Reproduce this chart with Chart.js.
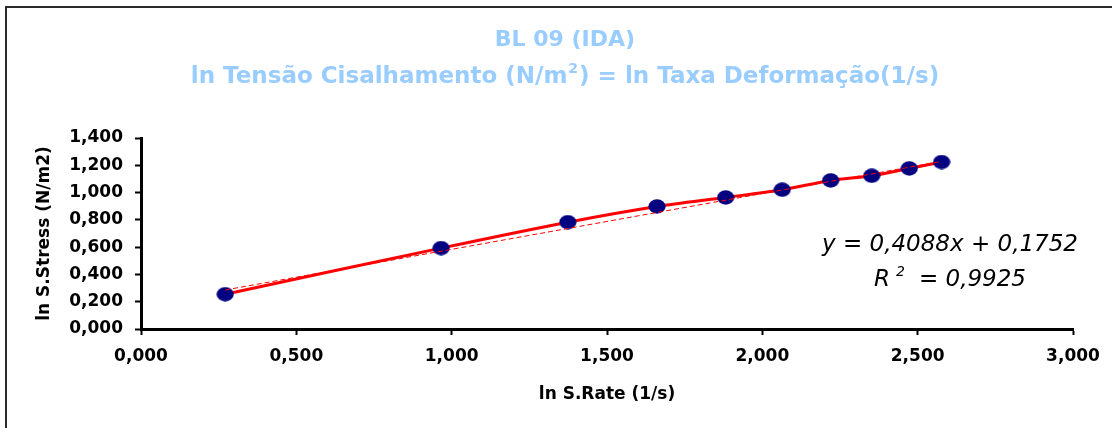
<!DOCTYPE html>
<html>
<head>
<meta charset="utf-8">
<script src="https://cdn.jsdelivr.net/npm/chart.js@4/dist/chart.umd.min.js"></script>
<style>
  html, body { margin: 0; padding: 0; background: #fff; }
  #wrap { width: 1112px; height: 428px; position: relative; }
</style>
</head>
<body>
<div id="wrap"><canvas id="c" width="1112" height="428"></canvas></div>
<script>
// ln of shear rate (1/s) and ln of shear stress (N/m2) for sample BL 09, ascending run
const shearRate   = [0.271, 0.966, 1.374, 1.661, 1.882, 2.064, 2.220, 2.352, 2.473, 2.577];
const shearStress = [0.255, 0.593, 0.783, 0.898, 0.964, 1.021, 1.089, 1.123, 1.177, 1.224];

// Linear trendline fitted in the spreadsheet
const trendSlope = 0.4088;
const trendIntercept = 0.1752;
const rSquared = 0.9925;

// Axis ticks
const xTicks = [0, 0.5, 1.0, 1.5, 2.0, 2.5, 3.0];
const yTicks = [0, 0.2, 0.4, 0.6, 0.8, 1.0, 1.2, 1.4];

const titleLine1 = 'BL 09 (IDA)';
const titleLine2a = 'ln Tensão Cisalhamento (N/m';
const titleLine2b = ') = ln Taxa Deformação(1/s)';
const xTitle = 'ln S.Rate (1/s)';
const yTitle = 'ln S.Stress (N/m2)';

const FONT = 'DejaVu Sans';
const comma = (v, d) => v.toFixed(d).replace('.', ',');

// Points of the measured series
const measured = shearRate.map((x, i) => ({ x: x, y: shearStress[i] }));
// Trendline spans the measured x range
const xFirst = shearRate[0], xLast = shearRate[shearRate.length - 1];
const trend = [
  { x: xFirst, y: trendSlope * xFirst + trendIntercept },
  { x: xLast,  y: trendSlope * xLast  + trendIntercept }
];

// Navy ellipse marker
const marker = document.createElement('canvas');
marker.width = 18; marker.height = 15;
(function () {
  const m = marker.getContext('2d');
  m.fillStyle = '#000080';
  m.beginPath();
  m.ellipse(9, 7.5, 8.6, 7.2, 0, 0, Math.PI * 2);
  m.fill();
})();

function drawParts(ctx, parts, cx, baseline) {
  let total = 0;
  parts.forEach(p => { ctx.font = p.font; p.w = ctx.measureText(p.t).width; total += p.w + (p.gap || 0); });
  let x = cx - total / 2;
  ctx.textAlign = 'left';
  ctx.textBaseline = 'alphabetic';
  parts.forEach(p => {
    x += (p.gap || 0);
    ctx.font = p.font;
    ctx.fillText(p.t, x, baseline + (p.dy || 0));
    x += p.w;
  });
}

const decorations = {
  id: 'decorations',
  beforeDraw(chart) {
    const ctx = chart.ctx;
    ctx.save();
    // frame (top and left edges)
    ctx.strokeStyle = '#2a2a2a';
    ctx.lineWidth = 2;
    ctx.beginPath();
    ctx.moveTo(6, 430);
    ctx.lineTo(6, 7);
    ctx.lineTo(1114, 7);
    ctx.stroke();

    // titles
    ctx.fillStyle = '#99CCFF';
    ctx.textAlign = 'center';
    ctx.textBaseline = 'alphabetic';
    ctx.font = 'bold 22px "' + FONT + '"';
    ctx.fillText(titleLine1, 565, 46);
    drawParts(ctx, [
      { t: titleLine2a, font: 'bold 23px "' + FONT + '"' },
      { t: '2', font: 'bold 14px "' + FONT + '"', dy: -10, gap: 1 },
      { t: titleLine2b, font: 'bold 23px "' + FONT + '"', gap: 1 }
    ], 565, 83);
    ctx.restore();
  },
  afterDraw(chart) {
    const ctx = chart.ctx;
    ctx.save();
    ctx.fillStyle = '#000';
    const f = 'oblique 23px "' + FONT + '"';
    ctx.font = f;
    ctx.textAlign = 'center';
    ctx.textBaseline = 'alphabetic';
    ctx.fillText('y = ' + comma(trendSlope, 4) + 'x + ' + comma(trendIntercept, 4), 950, 251);
    drawParts(ctx, [
      { t: 'R', font: f },
      { t: '2', font: 'oblique 14px "' + FONT + '"', dy: -10, gap: 6 },
      { t: '= ' + comma(rSquared, 4), font: f, gap: 14 }
    ], 950, 286);
    ctx.restore();
  }
};

const tickFont = { family: FONT, weight: 'bold', size: 17 };

new Chart(document.getElementById('c'), {
  type: 'scatter',
  data: {
    datasets: [
      {
        label: 'Linear',
        data: trend,
        showLine: true,
        borderColor: '#ff0000',
        borderWidth: 1,
        borderDash: [5, 3],
        pointRadius: 0,
        fill: false
      },
      {
        label: 'BL 09',
        data: measured,
        showLine: true,
        borderColor: '#ff0000',
        borderWidth: 3,
        tension: 0.3,
        pointStyle: marker,
        pointRadius: 8,
        pointBackgroundColor: '#000080',
        pointBorderColor: '#000080',
        fill: false
      }
    ]
  },
  options: {
    responsive: false,
    animation: false,
    devicePixelRatio: 1,
    layout: { padding: { left: 0, top: 138, right: 39, bottom: 0 } },
    plugins: { legend: { display: false }, tooltip: { enabled: false }, title: { display: false } },
    scales: {
      x: {
        type: 'linear',
        position: 'bottom',
        min: 0, max: 3,
        afterFit: s => { s.height = 99; },
        afterBuildTicks: s => { s.ticks = xTicks.map(v => ({ value: v })); },
        grid: { drawOnChartArea: false, drawTicks: true, tickLength: 6, tickWidth: 2, tickColor: '#000' },
        border: { display: true, color: '#000', width: 3 },
        ticks: { color: '#000', font: tickFont, padding: 11, maxRotation: 0, autoSkip: false,
                 callback: v => comma(v, 3) },
        title: { display: true, text: xTitle, color: '#000', font: tickFont, padding: { top: 0, bottom: 23 } }
      },
      y: {
        type: 'linear',
        position: 'left',
        min: 0, max: 1.4,
        afterFit: s => { s.width = 141; },
        afterBuildTicks: s => { s.ticks = yTicks.map(v => ({ value: v })); },
        grid: { drawOnChartArea: false, drawTicks: true, tickLength: 6, tickWidth: 2, tickColor: '#000' },
        border: { display: true, color: '#000', width: 3 },
        ticks: { color: '#000', font: tickFont, padding: 12, autoSkip: false,
                 callback: v => comma(v, 3) },
        title: { display: true, text: yTitle, color: '#000', font: tickFont, padding: { top: 34, bottom: 0 } }
      }
    }
  },
  plugins: [decorations]
});
</script>
</body>
</html>
